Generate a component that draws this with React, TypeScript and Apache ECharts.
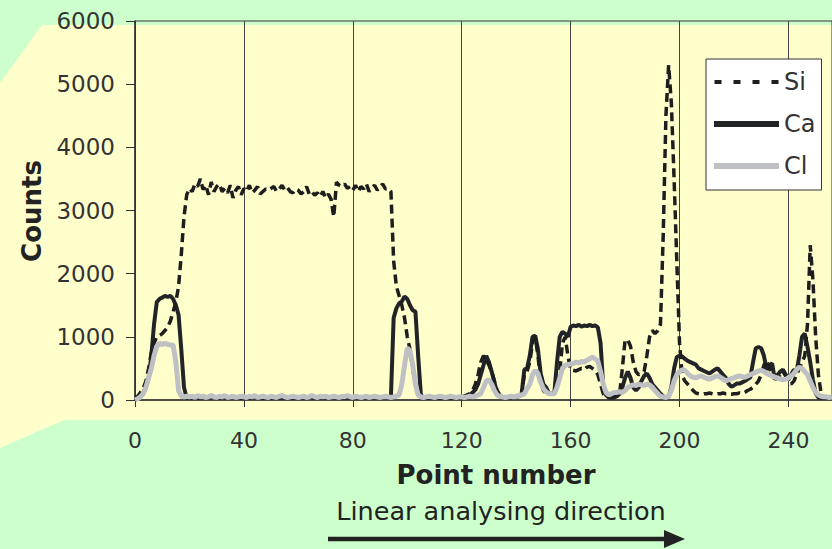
import React, { useEffect, useRef } from "react";
import * as echarts from "echarts";

// Point numbers 0..256, counts per element
const siCounts = [
  30, 60, 120, 180, 300, 500, 750, 900, 1000, 1020,
  1050, 1100, 1150, 1250, 1400, 1550, 1800, 2300, 2900, 3250,
  3350, 3300, 3420, 3380, 3500, 3330, 3400, 3250, 3450, 3300,
  3380, 3420, 3300, 3350, 3280, 3400, 3200, 3320, 3380, 3250,
  3350, 3300, 3400, 3280, 3320, 3380, 3260, 3300, 3340, 3320,
  3350, 3380, 3300, 3340, 3400, 3320, 3360, 3300, 3280, 3340,
  3320, 3260, 3300, 3380, 3260, 3300, 3240, 3280, 3220, 3300,
  3200, 3260, 3180, 2900, 3450, 3400, 3380, 3420, 3350, 3380,
  3320, 3400, 3300, 3380, 3340, 3420, 3300, 3360, 3400, 3320,
  3380, 3420, 3340, 3350, 3300, 2200, 1800, 1650, 1500, 1300,
  1000, 800, 500, 250, 100, 50, 40, 30, 40, 50,
  40, 30, 40, 50, 40, 30, 50, 40, 30, 40,
  50, 60, 80, 100, 150, 250, 400, 600, 700, 650,
  550, 450, 300, 150, 80, 50, 40, 40, 50, 40,
  50, 60, 80, 400, 450, 600, 900, 1000, 700, 300,
  150, 100, 90, 100, 120, 200, 450, 900, 1000, 700,
  480, 470, 460, 480, 500, 480, 520, 530, 500, 470,
  400, 250, 100, 60, 60, 50, 50, 60, 100, 500,
  950, 950, 850, 600, 450, 400, 420, 450, 700, 1000,
  1100, 1050, 1100, 1200, 2600, 4500, 5300, 4700, 3500, 2200,
  900, 380, 300, 250, 200, 150, 110, 100, 90, 100,
  100, 110, 100, 90, 100, 100, 110, 100, 100, 90,
  100, 100, 110, 100, 120, 150, 170, 200, 250, 300,
  400, 550, 620, 500, 420, 380, 350, 400, 450, 380,
  300, 250, 300, 400, 500, 600, 700, 1200, 2450, 1900,
  1000, 400, 100, 50, 40, 40, 50,
];

const caCounts = [
  0, 20, 50, 100, 200, 350, 700, 1200, 1550, 1600,
  1620, 1650, 1630, 1650, 1600, 1500, 1350, 800, 200, 30,
  40, 30, 50, 40, 30, 50, 40, 30, 40, 50,
  40, 30, 50, 40, 30, 40, 50, 30, 40, 30,
  40, 50, 30, 40, 50, 30, 40, 30, 50, 40,
  30, 40, 50, 30, 40, 30, 50, 40, 30, 40,
  50, 30, 40, 30, 50, 40, 30, 40, 50, 30,
  40, 30, 50, 40, 30, 40, 50, 30, 40, 30,
  40, 50, 30, 40, 30, 50, 40, 30, 40, 50,
  30, 40, 50, 40, 50, 1300, 1450, 1530, 1560, 1640,
  1600, 1500, 1420, 1400, 700, 80, 40, 30, 40, 30,
  40, 30, 40, 30, 40, 50, 30, 40, 50, 40,
  50, 50, 60, 80, 120, 160, 250, 400, 550, 700,
  600, 450, 280, 120, 60, 50, 40, 50, 40, 50,
  50, 60, 100, 480, 500, 700, 1000, 1020, 800, 420,
  250, 200, 110, 100, 110, 600, 1000, 1080, 1050, 1000,
  1160, 1180, 1170, 1190, 1160, 1180, 1170, 1190, 1170, 1180,
  1150, 900, 200, 80, 40, 30, 40, 60, 100, 200,
  350, 450, 350, 200, 150, 200, 300, 380, 420, 350,
  250, 200, 150, 100, 60, 40, 50, 200, 500, 680,
  700, 690, 650, 620, 600, 580, 560, 500, 480, 460,
  440, 420, 450, 480, 500, 450, 400, 350, 260, 210,
  230, 260, 260, 280, 300, 330, 360, 600, 820, 840,
  820, 700, 480, 550, 580, 320, 400, 450, 480, 400,
  320, 400, 480, 450, 700, 1000, 1050, 840, 600, 320,
  105, 40, 30, 30, 40, 30, 40,
];

const clCounts = [
  0, 20, 50, 100, 200, 350, 500, 700, 850, 900,
  880, 900, 880, 870, 870, 600, 150, 60, 50, 60,
  50, 60, 40, 70, 50, 60, 40, 50, 70, 50,
  40, 60, 50, 70, 40, 50, 60, 40, 50, 60,
  50, 40, 60, 50, 70, 40, 50, 60, 50, 40,
  60, 50, 40, 60, 70, 50, 40, 50, 60, 50,
  40, 50, 60, 40, 50, 70, 50, 40, 60, 50,
  60, 40, 50, 60, 50, 40, 60, 50, 70, 50,
  40, 60, 50, 40, 50, 60, 40, 50, 60, 50,
  40, 50, 60, 50, 40, 50, 60, 80, 250, 550,
  820, 780, 550, 250, 80, 50, 40, 50, 60, 50,
  40, 50, 60, 50, 40, 50, 60, 50, 40, 50,
  50, 40, 50, 60, 50, 60, 80, 100, 200, 300,
  320, 250, 150, 80, 60, 50, 40, 50, 60, 50,
  60, 70, 80, 100, 180, 250, 400, 470, 420, 280,
  180, 130, 100, 100, 100, 200, 350, 500, 550, 560,
  570, 580, 600, 590, 610, 600, 630, 650, 680, 650,
  620, 450, 250, 120, 80, 100, 120, 120, 130, 120,
  150, 200, 220, 240, 230, 250, 240, 230, 250, 240,
  200, 150, 100, 60, 50, 40, 60, 150, 300, 400,
  450, 480, 470, 420, 380, 360, 350, 370, 380, 360,
  340, 330, 350, 370, 380, 360, 330, 300, 320, 340,
  350, 370, 380, 370, 360, 380, 400, 420, 440, 460,
  470, 450, 420, 400, 380, 360, 350, 330, 320, 330,
  350, 380, 420, 480, 520, 500, 450, 400, 300, 200,
  120, 80, 60, 50, 50, 40, 50,
];

const legendNames = ["Si", "Ca", "Cl"];
const xAxisTitle = "Point number";
const yAxisTitle = "Counts";
const directionLabel = "Linear analysing direction";

const FONT = '"DejaVu Sans", "Liberation Sans", sans-serif';

const SI_COLOR = "#1e1e1e";
const CA_COLOR = "#222428";
const CL_COLOR = "#BEC0C3";

// dashed legend icon: zero-height sub-paths pin the box to 0..6 so the dashes stay 4px tall
const SI_ICON =
  "path://M0,0H0.01Z M0,6H0.01Z M0,1H7V5H0Z M19,1H26V5H19Z M38,1H45V5H38Z M57,1H64V5H57Z";

const toPairs = (vals: number[]) => vals.map((v, i) => [i, v]);

export default function App() {
  const ref = useRef<HTMLDivElement>(null);

  useEffect(() => {
    if (!ref.current) return;
    const chart = echarts.init(ref.current, null, { renderer: "svg" });
    chart.setOption({
      animation: false,
      backgroundColor: "#CCFFCC",
      textStyle: { fontFamily: FONT },
      grid: {
        left: 135,
        right: 0,
        top: 21,
        bottom: 149,
        show: true,
        borderColor: "#333",
        borderWidth: 1,
        backgroundColor: "transparent",
      },
      xAxis: {
        type: "value",
        min: 0,
        max: 256,
        interval: 40,
        axisLine: { show: true, lineStyle: { color: "#333", width: 1.5 } },
        axisTick: { show: true, length: 7, lineStyle: { color: "#333" } },
        axisLabel: {
          color: "#333",
          fontSize: 22,
          fontFamily: FONT,
          margin: 29,
          showMaxLabel: false,
          formatter: (v: number) => String(v),
        },
        splitLine: { show: true, lineStyle: { color: "#444", width: 1 } },
      },
      yAxis: {
        type: "value",
        min: 0,
        max: 6000,
        interval: 1000,
        axisLine: { show: true, lineStyle: { color: "#333", width: 1.5 } },
        axisTick: { show: true, length: 9, lineStyle: { color: "#333" } },
        axisLabel: {
          color: "#333",
          fontSize: 23,
          fontFamily: FONT,
          margin: 20,
          formatter: (v: number) => String(v),
        },
        splitLine: { show: false },
      },
      legend: {
        orient: "vertical",
        left: 706,
        top: 59,
        backgroundColor: "#ffffff",
        borderColor: "#333",
        borderWidth: 1,
        padding: [11, 6, 12, 8],
        itemWidth: 65,
        itemHeight: 6,
        itemGap: 18,
        selectedMode: false,
        itemStyle: { borderWidth: 0 },
        textStyle: { fontSize: 24, color: "#333", fontFamily: FONT },
        data: [
          { name: legendNames[0], icon: SI_ICON, itemStyle: { color: SI_COLOR, borderWidth: 0 } },
          { name: legendNames[1], icon: "rect", itemStyle: { color: CA_COLOR, borderWidth: 0 } },
          { name: legendNames[2], icon: "rect", itemStyle: { color: CL_COLOR, borderWidth: 0 } },
        ],
      },
      graphic: [
        {
          type: "polygon",
          z: -10,
          silent: true,
          shape: {
            points: [
              [42, 25],
              [832, 25],
              [832, 420],
              [64, 420],
              [0, 448],
              [0, 83],
            ],
          },
          style: { fill: "#FFFFCC" },
        },
        {
          type: "text",
          silent: true,
          style: {
            text: xAxisTitle,
            x: 496,
            y: 475,
            align: "center",
            verticalAlign: "middle",
            fontSize: 26,
            fontWeight: "bold",
            fontFamily: FONT,
            fill: "#222",
          },
        },
        {
          type: "text",
          silent: true,
          style: {
            text: directionLabel,
            x: 501,
            y: 511,
            align: "center",
            verticalAlign: "middle",
            fontSize: 25.5,
            fontFamily: FONT,
            fill: "#222",
          },
        },
        {
          type: "text",
          silent: true,
          x: 32,
          y: 211,
          rotation: Math.PI / 2,
          style: {
            text: yAxisTitle,
            x: 0,
            y: 0,
            align: "center",
            verticalAlign: "middle",
            fontSize: 26,
            fontWeight: "bold",
            fontFamily: FONT,
            fill: "#222",
          },
        },
        {
          type: "line",
          silent: true,
          shape: { x1: 328, y1: 539, x2: 668, y2: 539 },
          style: { stroke: "#222", lineWidth: 4.5 },
        },
        {
          type: "polygon",
          silent: true,
          shape: {
            points: [
              [664, 530],
              [685, 539],
              [664, 548],
            ],
          },
          style: { fill: "#222" },
        },
      ],
      series: [
        {
          name: legendNames[1],
          type: "line",
          data: toPairs(caCounts),
          symbol: "none",
          silent: true,
          lineStyle: { color: CA_COLOR, width: 4 },
          itemStyle: { color: CA_COLOR },
        },
        {
          name: legendNames[0],
          type: "line",
          data: toPairs(siCounts),
          symbol: "none",
          silent: true,
          lineStyle: { color: SI_COLOR, width: 3.5, type: [9, 5] },
          itemStyle: { color: SI_COLOR },
        },
        {
          name: legendNames[2],
          type: "line",
          data: toPairs(clCounts),
          symbol: "none",
          silent: true,
          lineStyle: { color: CL_COLOR, width: 5 },
          itemStyle: { color: CL_COLOR },
        },
      ],
    });
    return () => chart.dispose();
  }, []);

  return (
    <div
      ref={ref}
      style={{ position: "fixed", left: 0, top: 0, width: 832, height: 549 }}
    />
  );
}
